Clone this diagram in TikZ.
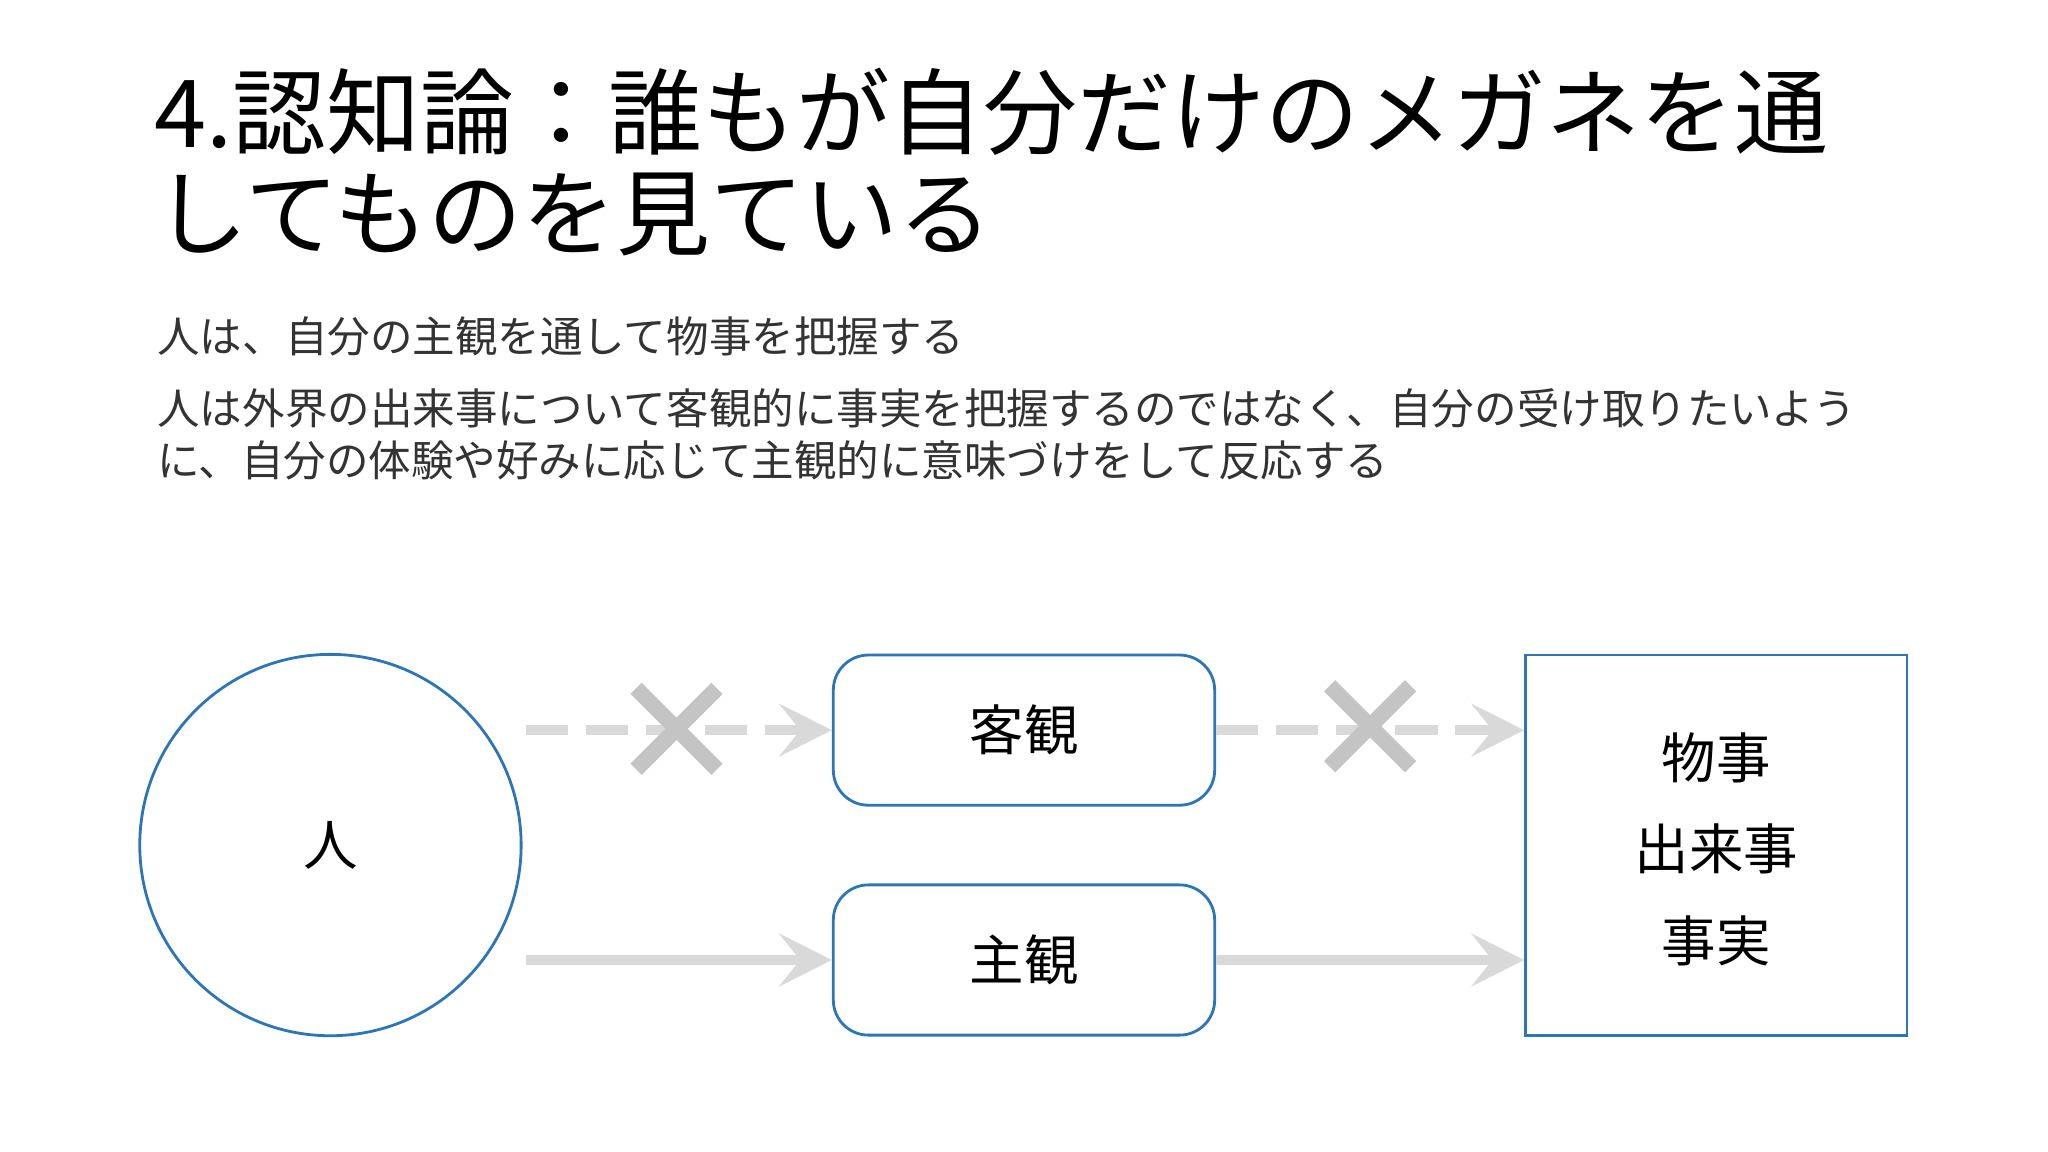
\documentclass[tikz,border=0pt]{standalone}
\usepackage{fontspec}
\setmainfont{Noto Sans CJK JP}
\usetikzlibrary{arrows.meta}
\definecolor{bl}{HTML}{2E75B6}
\definecolor{lg}{HTML}{D9D9D9}
\definecolor{xg}{HTML}{C4C4C4}
\begin{document}
\begin{tikzpicture}[x=0.01306cm,y=-0.01306cm,
  box/.style={draw=bl,line width=0.8pt,inner sep=0pt,font=\fontsize{15.5}{19}\selectfont},
  arr/.style={lg,line width=3pt,-{Stealth[length=15pt,width=15pt,inset=6pt]}},
  darr/.style={arr,dash pattern=on 12pt off 5pt},
  xx/.style={xg,line width=4.5pt}]
\useasboundingbox (0,0) rectangle (1568,882);
\node[anchor=base west,inner sep=0pt,font=\fontsize{26.7}{30}\selectfont] (t1) at (118,113) {4.認知論：誰もが自分だけのメガネを通};
\node[anchor=base west,inner sep=0pt,font=\fontsize{26.7}{30}\selectfont] (t2) at (118,190) {してものを見ている};
\node[anchor=base west,inner sep=0pt,text=black!80,font=\fontsize{12.1}{15}\selectfont] (s1) at (120,270) {人は、自分の主観を通して物事を把握する};
\node[anchor=base west,inner sep=0pt,text=black!80,font=\fontsize{12.1}{15}\selectfont] (s2) at (120,325) {人は外界の出来事について客観的に事実を把握するのではなく、自分の受け取りたいよう};
\node[anchor=base west,inner sep=0pt,text=black!80,font=\fontsize{12.1}{15}\selectfont] (s3) at (120,365) {に、自分の体験や好みに応じて主観的に意味づけをして反応する};
\node[box,circle,minimum size=292*0.01306cm] (p) at (253,647) {人};
\node[box,rounded corners=10pt,minimum width=292*0.01306cm,minimum height=115*0.01306cm] (k) at (784,559) {客観};
\node[box,rounded corners=10pt,minimum width=292*0.01306cm,minimum height=115*0.01306cm] (s) at (784,735) {主観};
\node[box,minimum width=292*0.01306cm,minimum height=291*0.01306cm] (f) at (1314,647) {};
\node[font=\fontsize{15.5}{19}\selectfont] (f1) at (1314,580) {物事};
\node[font=\fontsize{15.5}{19}\selectfont] (f2) at (1314,650) {出来事};
\node[font=\fontsize{15.5}{19}\selectfont] (f3) at (1314,720) {事実};
\coordinate (a1) at ([xshift=1pt]p.east |- k.west);
\coordinate (a2) at ([xshift=1pt]p.east |- s.west);
\draw[darr] (a1) -- (k.west);
\draw[darr] (k.east) -- (f.west |- k.east);
\draw[arr] (a2) -- (s.west);
\draw[arr] (s.east) -- (f.west |- s.east);
\coordinate (x1) at (518,558);
\coordinate (x2) at (1049,556);
\foreach \c in {x1,x2}{
  \draw[xx] ([shift={(-31,-31)}]\c) -- ([shift={(31,31)}]\c);
  \draw[xx] ([shift={(-31,31)}]\c) -- ([shift={(31,-31)}]\c);
}
\end{tikzpicture}
\end{document}
